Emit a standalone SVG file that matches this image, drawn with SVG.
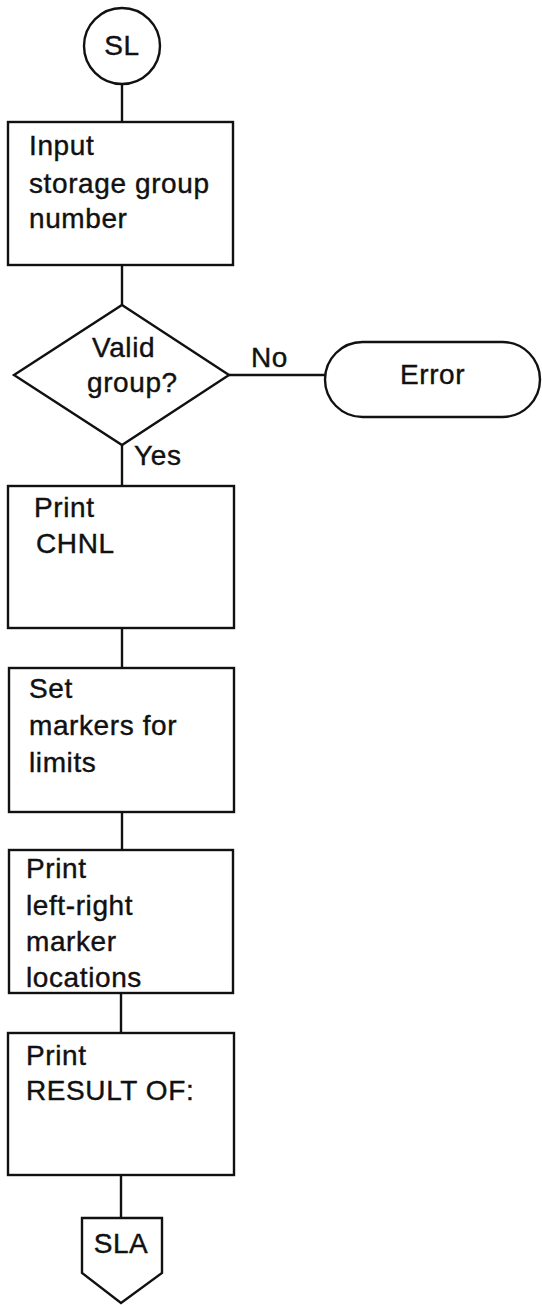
<svg xmlns="http://www.w3.org/2000/svg" width="542" height="1305" viewBox="0 0 542 1305">
  <style>
    .shape { fill: #ffffff; stroke: #111111; stroke-width: 2.4; }
    .wire { fill: none; stroke: #111111; stroke-width: 2.4; }
    .t { font-family: "Liberation Sans", Arial, sans-serif; font-size: 28px; letter-spacing: 0.6px; fill: #111111; stroke: #111111; stroke-width: 0.4; }
    .c { text-anchor: middle; }
  </style>
  <rect x="0" y="0" width="542" height="1305" fill="#ffffff"/>

  <!-- connectors -->
  <g id="connectors">
    <line class="wire" x1="122" y1="84" x2="122" y2="122"/>
    <line class="wire" x1="122" y1="265" x2="122" y2="305"/>
    <line class="wire" x1="229" y1="375" x2="325" y2="375"/>
    <line class="wire" x1="122" y1="445" x2="122" y2="486"/>
    <line class="wire" x1="122" y1="628" x2="122" y2="668"/>
    <line class="wire" x1="122" y1="812" x2="122" y2="850"/>
    <line class="wire" x1="121" y1="993" x2="121" y2="1033"/>
    <line class="wire" x1="121" y1="1175" x2="121" y2="1218"/>
    <text class="t" x="251" y="367">No</text>
    <text class="t" x="134" y="465">Yes</text>
  </g>

  <!-- start connector -->
  <g id="start">
    <circle class="shape" cx="122" cy="46" r="38"/>
    <text class="t c" x="122" y="55">SL</text>
  </g>

  <g id="input">
    <rect class="shape" x="8" y="122" width="225" height="143"/>
    <text class="t" x="29" y="155">Input</text>
    <text class="t" x="29" y="193">storage group</text>
    <text class="t" x="29" y="228">number</text>
  </g>

  <g id="valid">
    <polygon class="shape" points="122,305 229,375 122,445 14,375"/>
    <text class="t" x="92" y="357">Valid</text>
    <text class="t" x="87" y="392">group?</text>
  </g>

  <g id="error">
    <rect class="shape" x="325" y="342" width="215" height="75" rx="37.5" ry="37.5"/>
    <text class="t" x="400" y="384">Error</text>
  </g>

  <g id="print-chnl">
    <rect class="shape" x="8" y="486" width="226" height="142"/>
    <text class="t" x="34" y="517">Print</text>
    <text class="t" x="36" y="553">CHNL</text>
  </g>

  <g id="set-markers">
    <rect class="shape" x="9" y="668" width="225" height="144"/>
    <text class="t" x="29" y="698">Set</text>
    <text class="t" x="29" y="735">markers for</text>
    <text class="t" x="29" y="772">limits</text>
  </g>

  <g id="print-locations">
    <rect class="shape" x="9" y="850" width="224" height="143"/>
    <text class="t" x="26" y="878">Print</text>
    <text class="t" x="26" y="915">left-right</text>
    <text class="t" x="26" y="951">marker</text>
    <text class="t" x="26" y="987">locations</text>
  </g>

  <g id="print-result">
    <rect class="shape" x="8" y="1033" width="226" height="142"/>
    <text class="t" x="26" y="1065">Print</text>
    <text class="t" x="26" y="1100">RESULT OF:</text>
  </g>

  <!-- off-page connector -->
  <g id="sla">
    <polygon class="shape" points="82,1218 162,1218 162,1273 121,1303 82,1273"/>
    <text class="t c" x="121" y="1253">SLA</text>
  </g>
</svg>
